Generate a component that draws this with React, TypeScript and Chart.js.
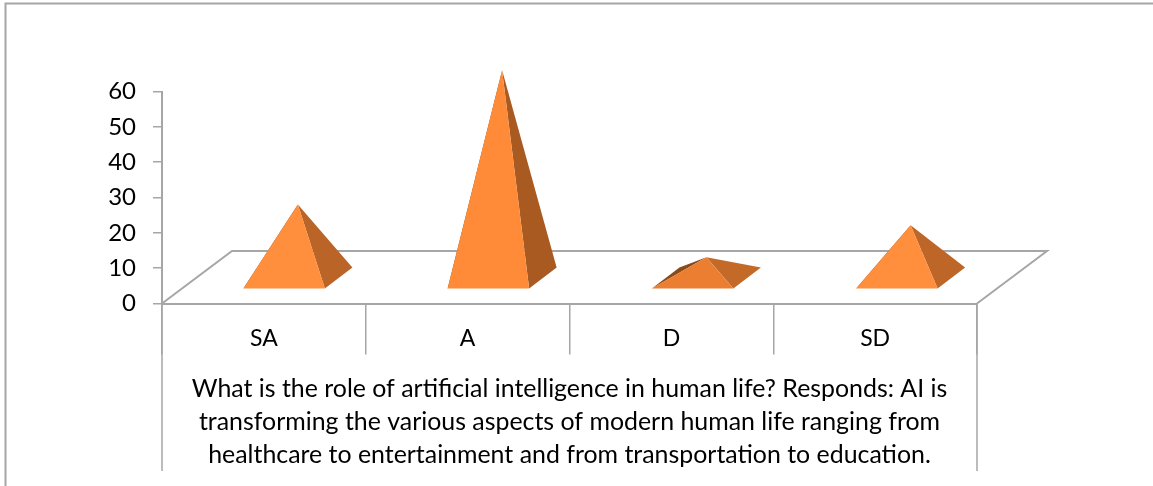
import React, { useEffect, useRef } from "react";
import { Chart, registerables } from "chart.js";

Chart.register(...registerables);

const categories = ["SA", "A", "D", "SD"];
const values = [20.8, 58.8, 5.9, 14.9];
const yTicks = [0, 10, 20, 30, 40, 50, 60];
const axisTitle = [
  "What is the role of artificial intelligence in human life? Responds: AI is",
  "transforming the various aspects of modern human life ranging from",
  "healthcare to entertainment and from transportation to education.",
];
const frontColors = ["#FF8F3C", "#FF8B38", "#EC7E31", "#FF8F3C"];
const sideColors = ["#BA6427", "#A85A20", "#C36A29", "#BD6627"];
const leftColor = "#8A4B1B";
const lineColor = "#A6A6A6";
const FONT = "Lato, Carlito, sans-serif";

const pyramidPlugin = {
  id: "pyramid3d",
  beforeDatasetsDraw(chart: any) {
    const { ctx, scales } = chart;
    const x = scales.x;
    const y = scales.y;
    const zero = y.getPixelForValue(0);
    const left = x.left;
    const right = x.right;
    const dx = 70;
    const dy = -52.5;
    ctx.save();
    ctx.strokeStyle = lineColor;
    ctx.lineWidth = 2;
    // page frame
    ctx.beginPath();
    ctx.moveTo(5.5, 486);
    ctx.lineTo(5.5, 3.5);
    ctx.lineTo(1153, 3.5);
    ctx.stroke();
    // floor
    ctx.beginPath();
    ctx.moveTo(left, zero);
    ctx.lineTo(left + dx, zero + dy);
    ctx.lineTo(right + dx, zero + dy);
    ctx.lineTo(right, zero);
    ctx.stroke();
    // outer long separators
    ctx.lineWidth = 1.5;
    ctx.beginPath();
    ctx.moveTo(left, zero);
    ctx.lineTo(left, 471);
    ctx.moveTo(right, zero);
    ctx.lineTo(right, 471);
    ctx.stroke();
    ctx.restore();
  },
  afterDatasetsDraw(chart: any) {
    const { ctx, scales } = chart;
    const y = scales.y;
    const meta = chart.getDatasetMeta(0);
    meta.data.forEach((bar: any, i: number) => {
      const v = values[i];
      const frontL = bar.x - 20.5 + i * 0.5;
      const frontR = frontL + 81.5;
      const frontY = y.getPixelForValue(0) - 15;
      const backDx = 27.5;
      const backDy = -21;
      const apexX = (frontL + frontR + backDx) / 2;
      const apexY = y.getPixelForValue(v) - 25.5;
      const poly = (pts: number[][], color: string) => {
        ctx.beginPath();
        pts.forEach((p, k) => (k ? ctx.lineTo(p[0], p[1]) : ctx.moveTo(p[0], p[1])));
        ctx.closePath();
        ctx.fillStyle = color;
        ctx.fill();
      };
      poly([[frontL, frontY], [frontL + backDx, frontY + backDy], [apexX, apexY]], leftColor);
      poly([[frontR, frontY], [frontR + backDx, frontY + backDy], [apexX, apexY]], sideColors[i]);
      poly([[frontL, frontY], [frontR, frontY], [apexX, apexY]], frontColors[i]);
    });
  },
};

export default function App() {
  const ref = useRef<HTMLCanvasElement | null>(null);
  useEffect(() => {
    document.body.style.margin = "0";
    const chart = new Chart(ref.current as HTMLCanvasElement, {
      type: "bar",
      data: {
        labels: categories,
        datasets: [{ data: values, backgroundColor: "rgba(0,0,0,0)", borderWidth: 0 }],
      },
      plugins: [pyramidPlugin],
      options: {
        animation: false,
        responsive: false,
        layout: { padding: { top: 91.5, right: 176, left: 0, bottom: 0 } },
        plugins: { legend: { display: false }, tooltip: { enabled: false } },
        scales: {
          x: {
            offset: true,
            grid: { drawOnChartArea: false, color: lineColor, tickLength: 51, lineWidth: 1.5, offset: true },
            border: { color: lineColor, width: 2 },
            ticks: { color: "#000", font: { family: FONT, size: 23 }, padding: -30, maxRotation: 0 },
            title: {
              display: true,
              text: axisTitle,
              color: "#000",
              font: { family: FONT, size: 24.9, lineHeight: 33 / 24.9 },
              padding: { top: 0, bottom: 15 },
            },
            afterFit: (s: any) => {
              s.height = 182.5;
            },
          },
          y: {
            min: 0,
            max: 60,
            grid: { drawOnChartArea: false, color: lineColor, tickLength: 9, lineWidth: 1.5 },
            border: { color: lineColor, width: 2 },
            ticks: {
              color: "#000",
              font: { family: FONT, size: 24 },
              padding: 17,
              stepSize: yTicks[1] - yTicks[0],
            },
            afterFit: (s: any) => {
              s.width = 162;
            },
          },
        },
      } as any,
    });
    return () => chart.destroy();
  }, []);
  return <canvas ref={ref} width={1153} height={486} style={{ display: "block" }} />;
}
